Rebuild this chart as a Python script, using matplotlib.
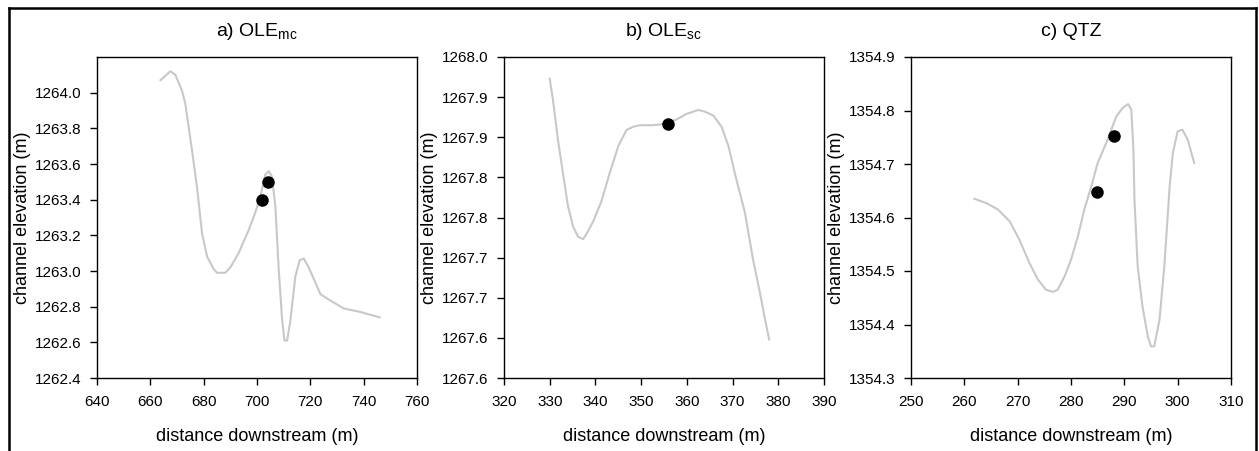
import matplotlib
matplotlib.use("Agg")
import matplotlib.pyplot as plt
from matplotlib.lines import Line2D

plt.rcParams['font.family'] = ['Liberation Sans', 'DejaVu Sans']
plt.rcParams['mathtext.default'] = 'regular'

# a) OLE mc profile
a_dist = [663.8, 667.5, 669.4, 671.9, 673.1, 675.6, 677.5, 679.4, 681.3, 683.8,
          685.0, 688.1, 690.0, 693.1, 696.9, 699.4, 701.3, 703.1, 704.4, 705.6,
          706.9, 708.1, 709.4, 710.3, 711.3, 712.5, 714.4, 716.0, 717.5, 719.4,
          723.8, 726.9, 732.5, 738.8, 746.0]
a_elev = [1264.07, 1264.12, 1264.10, 1264.01, 1263.94, 1263.68, 1263.47, 1263.21, 1263.08, 1263.01,
          1262.99, 1262.99, 1263.02, 1263.10, 1263.23, 1263.33, 1263.42, 1263.54, 1263.56, 1263.53,
          1263.36, 1263.02, 1262.73, 1262.61, 1262.61, 1262.72, 1262.97, 1263.06, 1263.07, 1263.02,
          1262.87, 1262.84, 1262.79, 1262.77, 1262.74]
a_pts_x = [701.9, 704.0]
a_pts_y = [1263.40, 1263.50]

# b) OLE sc profile
b_dist = [330.0, 330.7, 331.8, 332.9, 334.0, 335.1, 336.2, 337.3, 338.0, 339.5,
          341.3, 343.1, 345.0, 346.8, 348.2, 349.7, 352.6, 355.5, 357.7, 359.9,
          362.5, 363.9, 365.8, 367.6, 369.1, 370.5, 372.7, 374.5, 376.0, 377.1, 378.0]
b_elev = [1267.973, 1267.947, 1267.897, 1267.855, 1267.814, 1267.789, 1267.776, 1267.773, 1267.779, 1267.795,
          1267.820, 1267.855, 1267.889, 1267.909, 1267.913, 1267.915, 1267.915, 1267.917, 1267.922, 1267.929,
          1267.934, 1267.932, 1267.927, 1267.913, 1267.889, 1267.855, 1267.806, 1267.747, 1267.706, 1267.673, 1267.648]
b_pts_x = [355.8]
b_pts_y = [1267.917]

# c) QTZ profile
c_dist = [261.9, 264.1, 266.3, 268.5, 270.3, 272.2, 273.8, 275.3, 276.6, 277.5,
          278.8, 280.0, 281.3, 282.5, 283.8, 285.0, 286.6, 288.5, 289.7, 290.7,
          291.3, 291.7, 291.9, 292.5, 293.4, 294.4, 295.0, 295.6, 296.6, 297.5,
          298.5, 299.1, 300.0, 300.9, 301.9, 303.1]
c_elev = [1354.635, 1354.627, 1354.615, 1354.593, 1354.559, 1354.515, 1354.484, 1354.465, 1354.461, 1354.465,
          1354.490, 1354.521, 1354.565, 1354.615, 1354.658, 1354.702, 1354.739, 1354.789, 1354.805, 1354.812,
          1354.802, 1354.727, 1354.633, 1354.509, 1354.434, 1354.378, 1354.359, 1354.359, 1354.409, 1354.509,
          1354.658, 1354.721, 1354.761, 1354.764, 1354.745, 1354.702]
c_pts_x = [288.0, 284.9]
c_pts_y = [1354.752, 1354.648]

titles = ['a) OLE$_{mc}$', 'b) OLE$_{sc}$', 'c) QTZ']

a_xticks = [640, 660, 680, 700, 720, 740, 760]
a_yticks = [1262.4, 1262.6, 1262.8, 1263.0, 1263.2, 1263.4, 1263.6, 1263.8, 1264.0]
a_ylabels = ['1262.4', '1262.6', '1262.8', '1263.0', '1263.2', '1263.4', '1263.6', '1263.8', '1264.0']

b_xticks = [320, 330, 340, 350, 360, 370, 380, 390]
b_yticks = [1267.60, 1267.65, 1267.70, 1267.75, 1267.80, 1267.85, 1267.90, 1267.95, 1268.00]
b_ylabels = ['1267.6', '1267.6', '1267.7', '1267.7', '1267.8', '1267.8', '1267.9', '1267.9', '1268.0']

c_xticks = [250, 260, 270, 280, 290, 300, 310]
c_yticks = [1354.3, 1354.4, 1354.5, 1354.6, 1354.7, 1354.8, 1354.9]
c_ylabels = ['1354.3', '1354.4', '1354.5', '1354.6', '1354.7', '1354.8', '1354.9']

panels = [
    (a_dist, a_elev, a_pts_x, a_pts_y, a_xticks, a_yticks, a_ylabels, (1262.4, 1264.2)),
    (b_dist, b_elev, b_pts_x, b_pts_y, b_xticks, b_yticks, b_ylabels, (1267.6, 1268.0)),
    (c_dist, c_elev, c_pts_x, c_pts_y, c_xticks, c_yticks, c_ylabels, (1354.3, 1354.9)),
]

W, H = 1259, 451
fig = plt.figure(figsize=(W / 100, H / 100), dpi=100)

lefts = [97, 504, 911]
for i, (xd, yd, px, py, xt, yt, yl, ylim) in enumerate(panels):
    ax = fig.add_axes([lefts[i] / W, 1 - 378 / H, 320 / W, 321 / H])
    ax.plot(xd, yd, color='#c8c8c8', lw=1.5, solid_joinstyle='round')
    ax.plot(px, py, 'o', color='black', markersize=8, zorder=3)
    ax.set_xlim(xt[0], xt[-1])
    ax.set_ylim(*ylim)
    ax.set_xticks(xt)
    ax.set_yticks(yt, yl)
    ax.tick_params(direction='out', length=5, width=1, labelsize=11, colors='black')
    ax.tick_params(axis='x', pad=7)
    ax.tick_params(axis='y', pad=6)
    for sp in ax.spines.values():
        sp.set_linewidth(1)
    ax.set_xlabel('distance downstream (m)', fontsize=13, labelpad=14)
    ax.set_ylabel('channel elevation (m)', fontsize=13, labelpad=3)
    ax.set_title(titles[i], fontsize=14, pad=15)

# outer frame (open at the bottom)
for xs, ys in [([9, 9], [0, 8]), ([9, 1256], [8, 8]), ([1256, 1256], [8, 0])]:
    fig.add_artist(Line2D([x / W for x in xs], [1 - y / H if y else 0 for y in ys],
                          color='black', lw=1.8, transform=fig.transFigure))

fig.savefig('out.png', dpi=100)
